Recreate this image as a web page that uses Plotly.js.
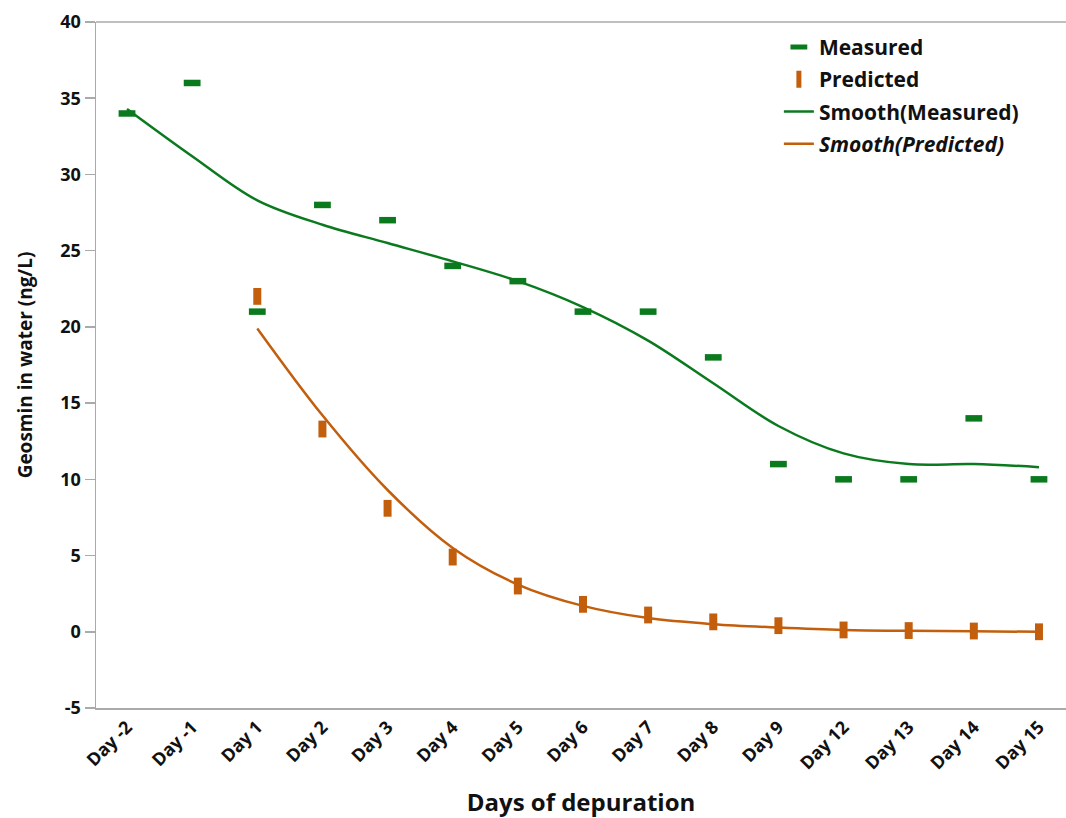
<!DOCTYPE html>
<html>
<head>
<meta charset="utf-8">
<script src="https://cdn.plot.ly/plotly-3.0.1.min.js"></script>
<style>html,body{margin:0;padding:0;background:#fff;}#chart{width:1066px;height:818px;}</style>
</head>
<body>
<div id="chart"></div>
<script>
const days = ["Day -2","Day -1","Day 1","Day 2","Day 3","Day 4","Day 5","Day 6","Day 7","Day 8","Day 9","Day 12","Day 13","Day 14","Day 15"];
const measured = [34, 36, 21, 28, 27, 24, 23, 21, 21, 18, 11, 10, 10, 14, 10];
const predDays = ["Day 1","Day 2","Day 3","Day 4","Day 5","Day 6","Day 7","Day 8","Day 9","Day 12","Day 13","Day 14","Day 15"];
const predicted = [22, 13.3, 8.1, 4.9, 3.0, 1.8, 1.1, 0.65, 0.4, 0.12, 0.08, 0.05, 0.0];
const smoothMeasured = [34.3, 31.2, 28.3, 26.7, 25.5, 24.3, 23.0, 21.3, 19.1, 16.3, 13.5, 11.7, 11.0, 11.0, 10.8];
const smoothPredicted = [19.9, 14.2, 9.3, 5.5, 3.1, 1.7, 0.9, 0.5, 0.28, 0.12, 0.06, 0.03, 0.0];
const yTicks = [-5, 0, 5, 10, 15, 20, 25, 30, 35, 40];
const yTickText = ["-5", "0", "5", "10", "15", "20", "25", "30", "35", "40"];

const green = "#0B7A1E";
const orange = "#C25E0C";
const fontFam = "'Open Sans', 'DejaVu Sans', sans-serif";

const traces = [
  {x: days, y: measured, name: "Measured", type: "scatter", mode: "markers", legendgroup: "a",
   marker: {symbol: "line-ew", size: 12, color: green, line: {color: green, width: 6.5}}},
  {x: predDays, y: predicted, name: "Predicted", type: "scatter", mode: "markers", legendgroup: "b",
   marker: {symbol: "line-ns", size: 12, color: orange, line: {color: orange, width: 8}}},
  {x: days, y: smoothMeasured, name: "Smooth(Measured)", type: "scatter", mode: "lines", legendgroup: "c",
   line: {color: green, width: 2.5, shape: "spline", smoothing: 1}},
  {x: predDays, y: smoothPredicted, name: "<i>Smooth(Predicted)</i>", type: "scatter", mode: "lines", legendgroup: "d",
   line: {color: orange, width: 2.5, shape: "spline", smoothing: 1}}
];

const layout = {
  width: 1066, height: 818,
  margin: {l: 96, r: 0, t: 22, b: 110},
  paper_bgcolor: "#fff", plot_bgcolor: "#fff",
  font: {family: fontFam, color: "#111", size: 18, weight: "bold"},
  showlegend: true,
  legend: {x: 0.704, y: 0.993, xanchor: "left", yanchor: "top", bgcolor: "rgba(0,0,0,0)",
           traceorder: "grouped", tracegroupgap: 2,
           font: {family: fontFam, size: 21, color: "#111", weight: "bold"}},
  xaxis: {
    type: "category", categoryorder: "array", categoryarray: days,
    range: [-0.476, 14.415],
    showgrid: false, zeroline: false, showline: true, linecolor: "#aaa", linewidth: 1.5,
    ticks: "", tickangle: -45, mirror: false,
    tickfont: {family: fontFam, size: 18, color: "#111", weight: "bold"},
    title: {text: "<b>Days of depuration</b>", font: {family: fontFam, size: 24, color: "#111"}, standoff: 24}
  },
  yaxis: {
    range: [-5, 40], tickvals: yTicks, ticktext: yTickText,
    showgrid: false, zeroline: false, showline: true, linecolor: "#aaa", linewidth: 1.5,
    ticks: "outside", ticklen: 10, tickcolor: "#aaa", tickwidth: 1.5,
    tickfont: {family: fontFam, size: 18, color: "#111", weight: "bold"},
    title: {text: "<b>Geosmin in water (ng/L)</b>", font: {family: fontFam, size: 19, color: "#111"}, standoff: 22}
  },
  shapes: [
    {type: "line", xref: "paper", yref: "paper", x0: 0, x1: 1, y0: 1, y1: 1, line: {color: "#aaa", width: 1.5}}
  ]
};

Plotly.newPlot("chart", traces, layout, {displayModeBar: false, staticPlot: true});
</script>
</body>
</html>
